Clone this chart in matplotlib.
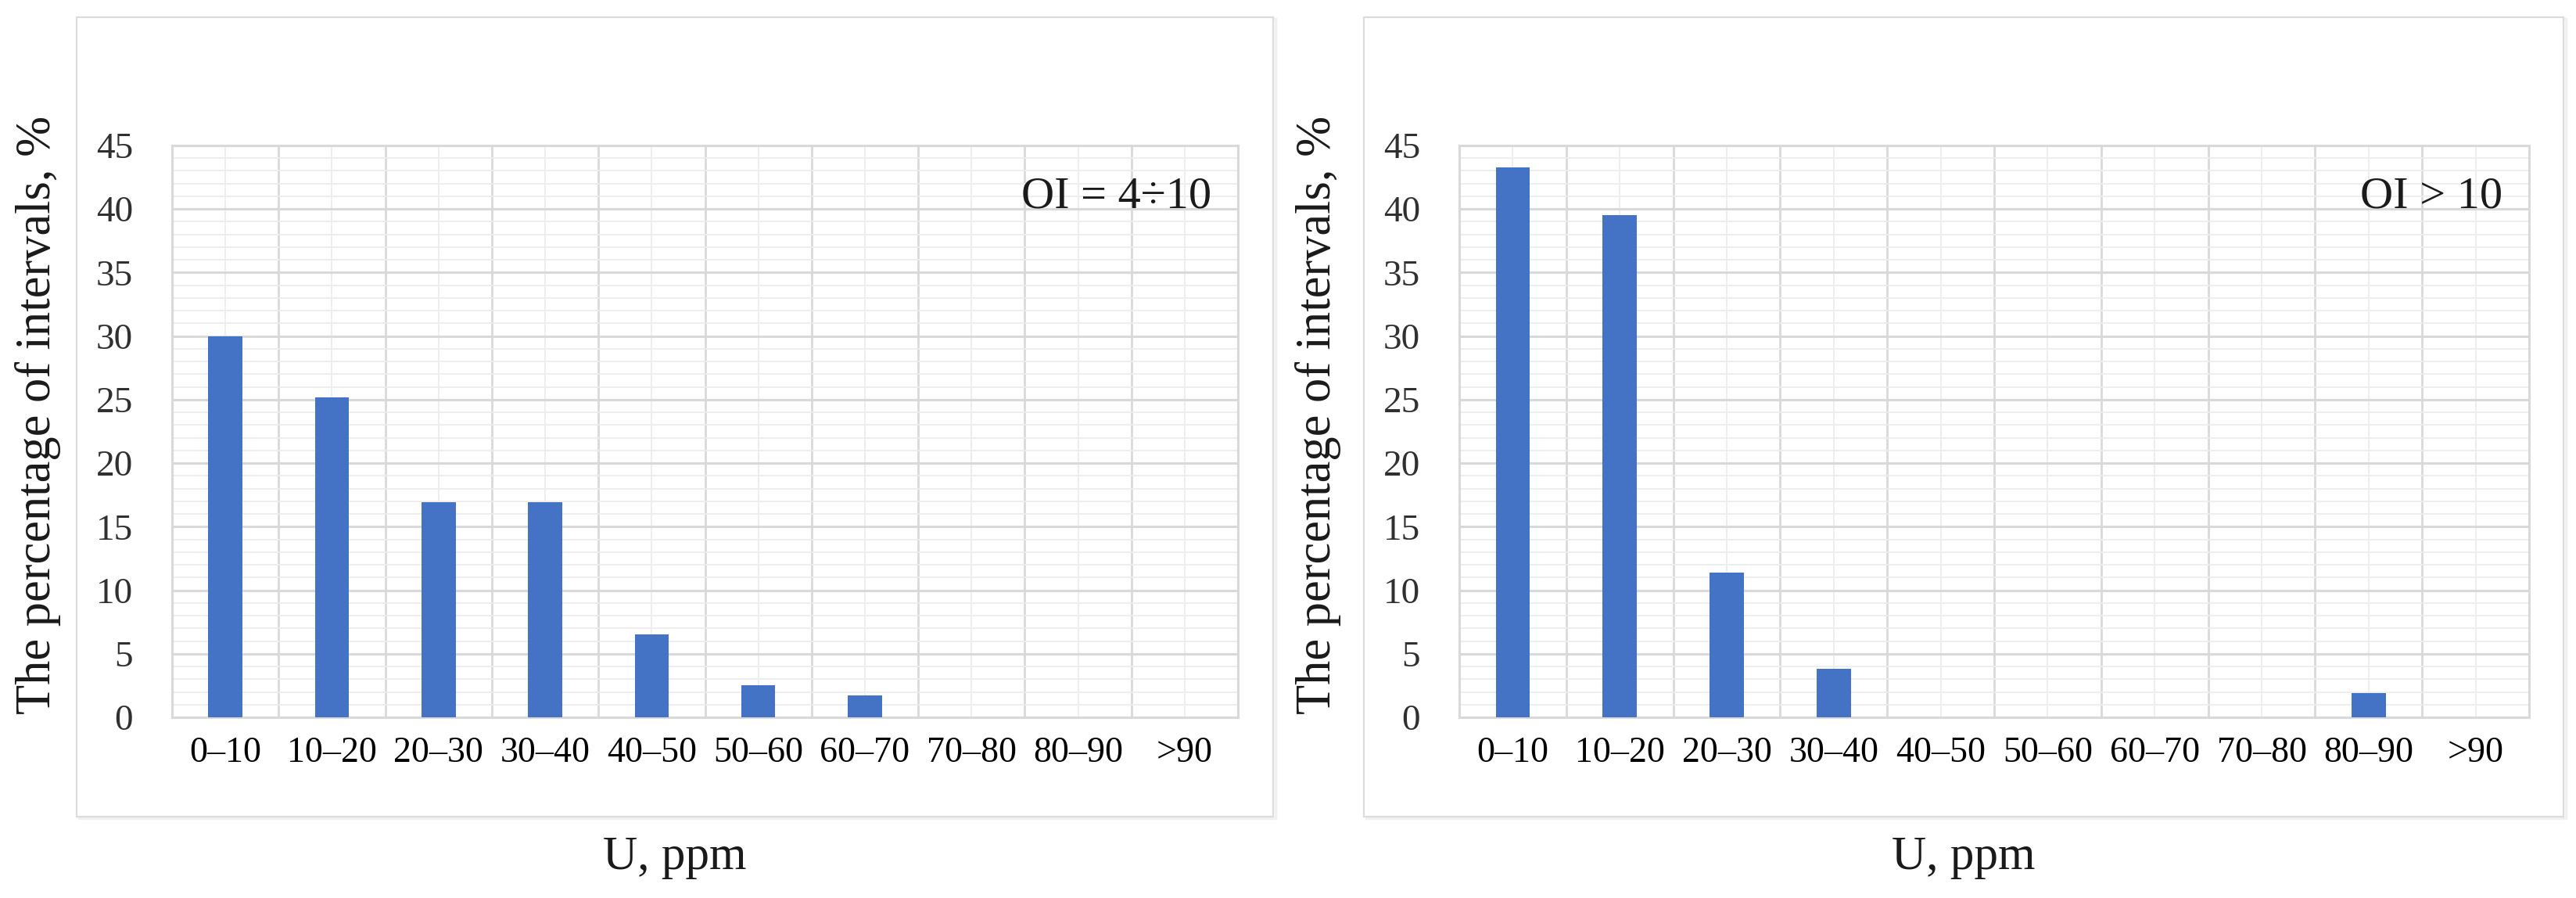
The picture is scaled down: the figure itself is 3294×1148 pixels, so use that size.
import matplotlib
matplotlib.use("Agg")
import matplotlib.pyplot as plt
import matplotlib.ticker as mticker
from matplotlib.patches import Rectangle
import numpy as np

# ---------------------------------------------------------------------------
# Data
# ---------------------------------------------------------------------------
categories = ["0–10", "10–20", "20–30", "30–40", "40–50",
              "50–60", "60–70", "70–80", "80–90", ">90"]
share_oi_4_10 = [30.0, 25.2, 16.9, 16.9, 6.5, 2.5, 1.7, 0, 0, 0]
share_oi_gt_10 = [43.3, 39.5, 11.4, 3.8, 0, 0, 0, 0, 1.9, 0]
panel_notes = ["OI = 4÷10", "OI > 10"]
y_label = "The percentage of intervals, %"
x_label = "U, ppm"

BAR_BLUE = "#4472C4"
GRID_MAJOR = "#d9d9d9"
GRID_MINOR = "#ededed"

W, H = 3294, 1148
DPI = 100

plt.rcParams["font.family"] = ["Liberation Serif", "DejaVu Serif"]

fig = plt.figure(figsize=(W / DPI, H / DPI), dpi=DPI)
fig.patch.set_facecolor("white")


def px_box(x0, y0, x1, y1):
    """Pixel box (top-left origin) -> figure fraction [l, b, w, h]."""
    return [x0 / W, 1 - y1 / H, (x1 - x0) / W, (y1 - y0) / H]


def draw_panel(frame_px, axes_px, values, note, ylab_x):
    # chart-area frame
    l, b, w, h = px_box(*frame_px)
    fig.patches.append(Rectangle((l + 0.0008, b - 0.002), w, h, transform=fig.transFigure,
                                 facecolor="none", edgecolor="#f0f0f0", linewidth=2.5, zorder=0))
    fig.patches.append(Rectangle((l, b), w, h, transform=fig.transFigure,
                                 facecolor="white", edgecolor="#dcdcdc", linewidth=1.6, zorder=0.5))

    ax = fig.add_axes(px_box(*axes_px))
    ax.set_facecolor("white")
    ax.patch.set_alpha(0)
    ax.set_zorder(2)

    x = np.arange(len(categories))
    ax.bar(x, values, width=0.32, color=BAR_BLUE, zorder=3)

    ax.set_xlim(-0.5, len(categories) - 0.5)
    ax.set_ylim(0, 45)

    ax.set_xticks(x)
    ax.set_xticklabels(categories)
    ax.set_xticks(np.arange(len(categories) + 1) - 0.5, minor=True)
    ax.yaxis.set_major_locator(mticker.MultipleLocator(5))
    ax.yaxis.set_minor_locator(mticker.MultipleLocator(1))

    ax.grid(axis="y", which="major", color=GRID_MAJOR, linewidth=2.2, zorder=1)
    ax.grid(axis="y", which="minor", color=GRID_MINOR, linewidth=1.3, zorder=0.5)
    ax.grid(axis="x", which="minor", color=GRID_MAJOR, linewidth=2.0, zorder=1)
    ax.grid(axis="x", which="major", color=GRID_MINOR, linewidth=1.3, zorder=0.5)
    ax.set_axisbelow(True)

    for spine in ax.spines.values():
        spine.set_color(GRID_MAJOR)
        spine.set_linewidth(2.2)

    ax.tick_params(axis="both", which="both", length=0)
    ax.tick_params(axis="x", labelsize=33, pad=18, colors="black")
    ax.tick_params(axis="y", labelsize=34, pad=36, colors="#303030")

    ax.text(0.975, 0.911, note, transform=ax.transAxes, ha="right", va="center",
            fontsize=42, color="#1a1a1a", zorder=4)

    ax.set_ylabel(y_label, fontsize=45, color="#1a1a1a")
    ax.yaxis.set_label_coords(ylab_x, 0.529)
    ax.yaxis.label.set_va("center")

    ax.set_xlabel(x_label, fontsize=44, color="#1a1a1a")
    frame_cx = (frame_px[0] + frame_px[2]) / 2
    ax.xaxis.set_label_coords((frame_cx - axes_px[0]) / (axes_px[2] - axes_px[0]), -0.245)
    ax.xaxis.label.set_va("center")
    return ax


draw_panel((98, 22, 1628, 1044), (220, 186, 1583, 917), share_oi_4_10, panel_notes[0], -0.126)
draw_panel((1744, 22, 3278, 1044), (1866, 186, 3234, 917), share_oi_gt_10, panel_notes[1], -0.132)

fig.savefig("out.png", dpi=DPI, facecolor="white")
plt.close(fig)
